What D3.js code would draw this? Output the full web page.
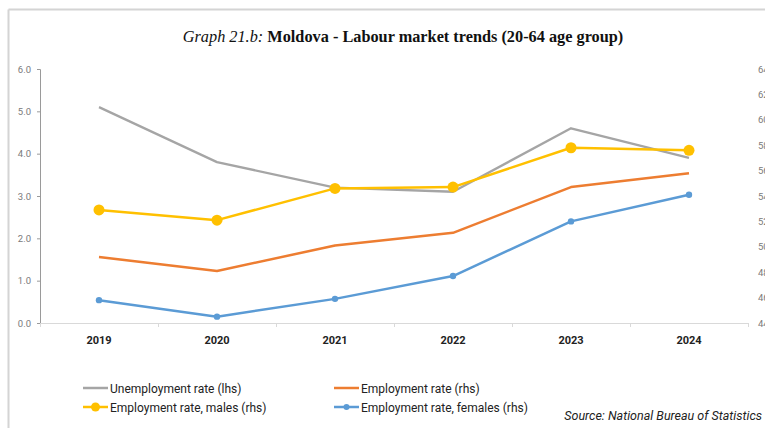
<!DOCTYPE html>
<html>
<head>
<meta charset="utf-8">
<script src="https://d3js.org/d3.v7.min.js"></script>
<style>
  body { margin: 0; background: #fff; }
  svg { display: block; }
</style>
</head>
<body>
<div id="my_dataviz"></div>
<script>

// data
var years = ["2019", "2020", "2021", "2022", "2023", "2024"];
var unemployment = [5.1, 3.8, 3.2, 3.1, 4.6, 3.9];        // lhs
var employment = [49.2, 48.1, 50.1, 51.1, 54.7, 55.8];    // rhs
var employmentMales = [52.9, 52.1, 54.6, 54.7, 57.8, 57.6];
var employmentFemales = [45.8, 44.5, 45.9, 47.7, 52.0, 54.1];
var leftTicks = [0, 1, 2, 3, 4, 5, 6];
var rightTicks = [44, 46, 48, 50, 52, 54, 56, 58, 60, 62, 64];

var W = 765, H = 428;
var margin = {top: 69, right: 17, bottom: 105, left: 40};
var width = W - margin.left - margin.right,
    height = H - margin.top - margin.bottom;

var svg = d3.select("#my_dataviz")
  .append("svg")
  .attr("width", W)
  .attr("height", H);

// outer frame (only top and left edges are visible)
svg.append("line").attr("x1", 8.5).attr("x2", W).attr("y1", 9.5).attr("y2", 9.5)
  .style("stroke", "#d4d4d4").style("stroke-width", 2);
svg.append("line").attr("x1", 8.5).attr("x2", 8.5).attr("y1", 9.5).attr("y2", H)
  .style("stroke", "#d4d4d4").style("stroke-width", 2);

// title
var title = svg.append("text")
  .attr("x", 403)
  .attr("y", 42)
  .attr("text-anchor", "middle")
  .style("font-family", "'Liberation Serif', 'Times New Roman', serif")
  .style("font-size", "16.3px")
  .style("fill", "#111");
title.append("tspan").style("font-style", "italic").text("Graph 21.b: ");
title.append("tspan").style("font-weight", "bold").text("Moldova - Labour market trends (20-64 age group)");

var g = svg.append("g")
  .attr("transform", "translate(" + margin.left + "," + margin.top + ")");

// scales
var x = d3.scaleBand().domain(years).range([0, width]);
var yL = d3.scaleLinear().domain([0, 6]).range([height, 0]);
var yR = d3.scaleLinear().domain([44, 64]).range([height, 0]);
var cx = function(d, i) { return x(years[i]) + x.bandwidth() / 2; };

// left axis
var axL = g.append("g")
  .call(d3.axisLeft(yL).tickValues(leftTicks).tickSize(3).tickPadding(6).tickFormat(d3.format(".1f")));
axL.select(".domain").style("stroke", "#9a9a9a");
axL.selectAll(".tick line").style("stroke", "#9a9a9a");
axL.selectAll("text").style("font-family", "Roboto, 'Liberation Sans', sans-serif")
  .style("font-size", "9.5px").style("fill", "#7a7a7a");

// right axis (labels run off the edge of the page as in the source)
var axR = g.append("g")
  .attr("transform", "translate(" + (width) + ",0)")
  .call(d3.axisRight(yR).tickValues(rightTicks).tickSize(0).tickPadding(10).tickFormat(d3.format(".1f")));
axR.select(".domain").remove();
axR.selectAll("text").style("font-family", "Roboto, 'Liberation Sans', sans-serif")
  .style("font-size", "9.5px").style("fill", "#7a7a7a");

// bottom axis with ticks on category boundaries
var axB = g.append("g")
  .attr("transform", "translate(0," + height + ")");
axB.append("line").attr("x1", 0).attr("x2", width).attr("y1", 0.5).attr("y2", 0.5)
  .style("stroke", "#d9d9d9").style("stroke-width", 1.2);
axB.selectAll(".bt")
  .data(years.concat(["end"]))
  .enter().append("line")
  .attr("x1", function(d, i) { return Math.round(i * x.bandwidth()) + 0.5; })
  .attr("x2", function(d, i) { return Math.round(i * x.bandwidth()) + 0.5; })
  .attr("y1", 0).attr("y2", 4)
  .style("stroke", "#d9d9d9");
axB.selectAll(".lbl")
  .data(years)
  .enter().append("text")
  .attr("x", function(d) { return x(d) + x.bandwidth() / 2; })
  .attr("y", 21)
  .attr("text-anchor", "middle")
  .style("font-family", "Roboto, 'Liberation Sans', sans-serif")
  .style("font-weight", "bold")
  .style("font-size", "11px")
  .style("fill", "#222")
  .text(function(d) { return d; });

// series
var series = [
  {name: "Unemployment rate (lhs)", values: unemployment, y: yL, color: "#a5a5a5", r: 0, w: 2.3},
  {name: "Employment rate (rhs)", values: employment, y: yR, color: "#ed7d31", r: 0, w: 2.5},
  {name: "Employment rate, males (rhs)", values: employmentMales, y: yR, color: "#ffc000", r: 5.5, w: 2.5},
  {name: "Employment rate, females (rhs)", values: employmentFemales, y: yR, color: "#5b9bd5", r: 3.2, w: 2.5}
];

series.forEach(function(s) {
  var line = d3.line()
    .x(cx)
    .y(function(d) { return s.y(d); });
  g.append("path")
    .datum(s.values)
    .attr("d", line)
    .style("fill", "none")
    .style("stroke", s.color)
    .style("stroke-width", s.w)
    .style("stroke-linejoin", "round");
  if (s.r > 0) {
    g.selectAll(null)
      .data(s.values)
      .enter().append("circle")
      .attr("cx", cx)
      .attr("cy", function(d) { return s.y(d); })
      .attr("r", s.r)
      .style("fill", s.color);
  }
});

// legend
var legPos = [[83, 388], [334, 388], [83, 407], [334, 407]];
series.forEach(function(s, i) {
  var lg = svg.append("g").attr("transform", "translate(" + legPos[i][0] + "," + legPos[i][1] + ")");
  lg.append("line").attr("x1", 0).attr("x2", 25).attr("y1", 0).attr("y2", 0)
    .style("stroke", s.color).style("stroke-width", 2.5);
  if (s.r > 0) {
    lg.append("circle").attr("cx", 12.5).attr("cy", 0).attr("r", s.r > 4 ? 4.5 : 3).style("fill", s.color);
  }
  lg.append("text")
    .attr("x", 27)
    .attr("y", 4.5)
    .style("font-family", "Roboto, 'Liberation Sans', sans-serif")
    .style("font-size", "12px")
    .style("fill", "#222")
    .text(s.name);
});

// source note
svg.append("text")
  .attr("x", 762)
  .attr("y", 420)
  .attr("text-anchor", "end")
  .style("font-family", "Roboto, 'Liberation Sans', sans-serif")
  .style("font-style", "italic")
  .style("font-size", "12.5px")
  .style("fill", "#222")
  .text("Source: National Bureau of Statistics");

</script>
</body>
</html>
